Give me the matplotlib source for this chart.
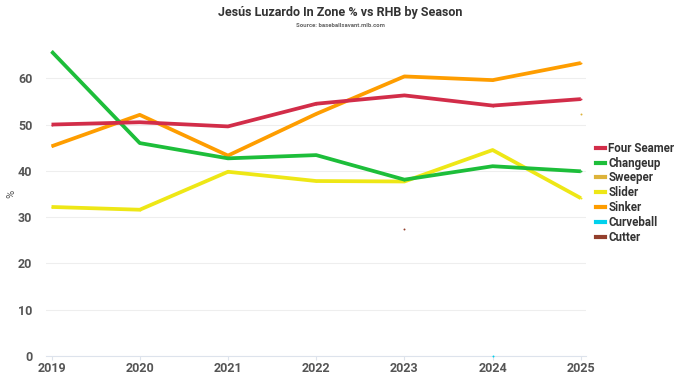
import matplotlib
matplotlib.use("Agg")
import matplotlib.pyplot as plt
from matplotlib.lines import Line2D
import numpy as np

plt.rcParams['font.family'] = ['Roboto', 'DejaVu Sans']

seasons = [2019, 2020, 2021, 2022, 2023, 2024, 2025]

four_seamer = [50.0, 50.5, 49.6, 54.5, 56.3, 54.1, 55.5]
changeup = [65.8, 46.0, 42.7, 43.4, 38.1, 41.0, 39.9]
sweeper = [None, None, None, None, None, None, 52.3]
slider = [32.2, 31.6, 39.8, 37.8, 37.7, 44.5, 34.1]
sinker = [45.3, 52.1, 43.3, 52.3, 60.4, 59.6, 63.3]
curveball = [None, None, None, None, None, 0.1, None]
cutter = [None, None, None, None, 27.5, None, None]

pitches = ["Four Seamer", "Changeup", "Sweeper", "Slider", "Sinker", "Curveball", "Cutter"]
values = [four_seamer, changeup, sweeper, slider, sinker, curveball, cutter]
colors = ["#D22D49", "#1DBE3A", "#DDB33A", "#EEE716", "#FE9D00", "#00D1ED", "#933F2C"]

# draw order so overlaps look like the original
order = [3, 4, 1, 0, 2, 5, 6]

fig = plt.figure(figsize=(6.8, 3.83), dpi=100)
ax = fig.add_axes([0.068, 0.0705, 0.794, 0.846])

for i in order:
    v = np.array([np.nan if x is None else x for x in values[i]], dtype=float)
    ax.plot(seasons, v, color=colors[i], lw=2.7, solid_capstyle='butt',
            marker='o', markersize=1.4, markeredgewidth=0, clip_on=False, zorder=3)

ax.set_xlim(2018.94, 2025.06)
ax.set_ylim(0, 70)
ax.set_yticks([0, 10, 20, 30, 40, 50, 60])
ax.set_xticks(seasons)
ax.grid(axis='y', color='#eeeeee', lw=0.8)
ax.set_axisbelow(True)
for s in ['top', 'right', 'left']:
    ax.spines[s].set_visible(False)
ax.spines['bottom'].set_color('#dde3ec')
ax.tick_params(axis='y', length=0, pad=10, labelsize=9, labelcolor='#555555')
ax.tick_params(axis='x', length=3, color='#dde3ec', pad=1, labelsize=9, labelcolor='#555555')
for lab in ax.get_xticklabels() + ax.get_yticklabels():
    lab.set_fontweight('bold')
ax.set_ylabel('%', fontsize=8, color='#555555', labelpad=1)

leg_handles = [Line2D([], [], color=c, lw=3) for c in colors]
leg = fig.legend(leg_handles, pitches, loc='upper left', bbox_to_anchor=(0.87, 0.642),
                 frameon=False, handlelength=0.8, handletextpad=0.25, labelspacing=0.16,
                 borderaxespad=0, prop={'size': 8.3, 'weight': 'bold'})
for t in leg.get_texts():
    t.set_color('#333333')

fig.text(0.5, 0.967, 'Jesús Luzardo In Zone % vs RHB by Season', ha='center', va='center',
         fontsize=9, fontweight='bold', color='#333333')
fig.text(0.5, 0.934, 'Source: baseballsavant.mlb.com', ha='center', va='center',
         fontsize=4.3, fontweight='bold', color='#666666')

fig.savefig('out.png', dpi=100)
